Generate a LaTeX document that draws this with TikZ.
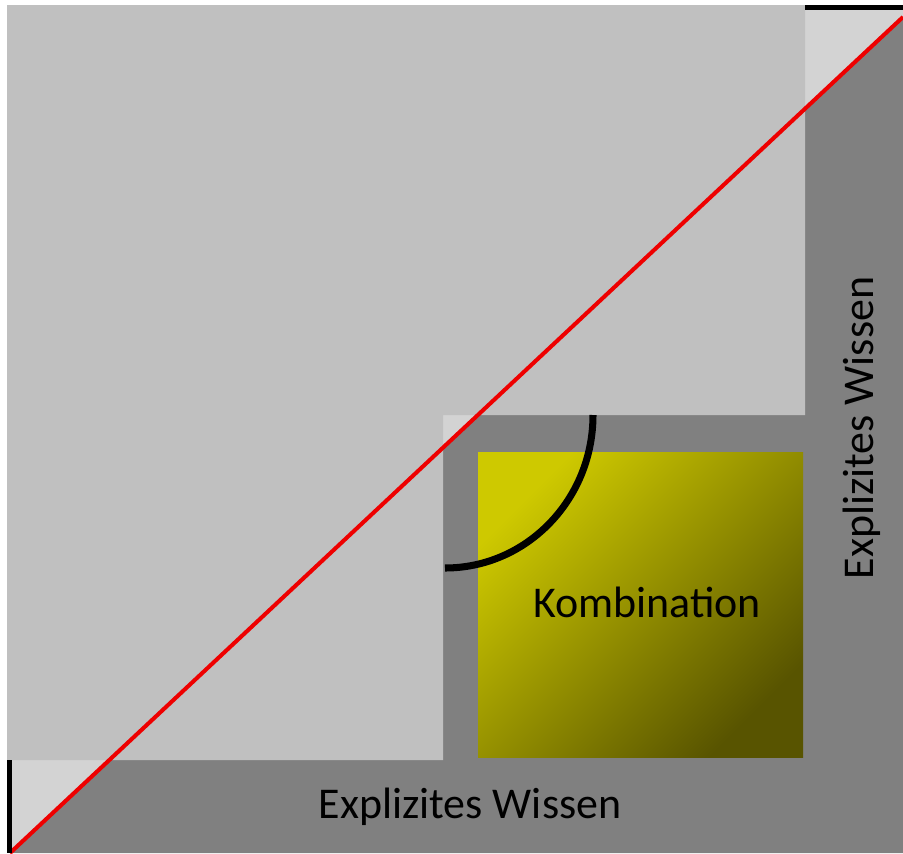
\documentclass[tikz,border=0pt]{standalone}
\usepackage{fontspec}
\setmainfont{Carlito}
\usetikzlibrary{calc}
\definecolor{grey1}{RGB}{192,192,192}
\definecolor{grey2}{RGB}{211,211,211}
\definecolor{grey3}{RGB}{128,128,128}
\definecolor{red1}{RGB}{238,0,0}
\definecolor{yellow1}{RGB}{206,201,0}
\definecolor{yellow2}{RGB}{165,160,0}
\definecolor{olive1}{RGB}{88,84,0}

\begin{document}
\begin{tikzpicture}[x=0.02cm, y=-0.02cm, line width=1.5pt,
  lbl/.style={anchor=base, inner sep=0pt, font=\fontsize{25}{30}\selectfont}]
  \useasboundingbox (0,0) rectangle (903,853);
  \coordinate (tl) at (7,5);
  \coordinate (br) at (903,853);
  \coordinate (d1) at (10,853);
  \coordinate (d2) at (903,17);
  \coordinate (ctr) at (443,415);
  % background: light above the diagonal, dark below
  \fill[grey2] (tl) rectangle (br);
  \fill[grey3] (d1) -- (d2) -- (br) -- cycle;
  \fill[grey1] (tl) -- (805,5) -- (805,415) -- (ctr) -- (443,760) -- (7,760) -- cycle;
  \shade[shading=axis, top color=yellow1, middle color=yellow2, bottom color=olive1, shading angle=45]
    (478,452) rectangle (803,757);
  \draw[line width=4pt] (593,415) arc[start angle=0, end angle=90, x radius=148, y radius=153];
  \draw[red1, line width=2.3pt] (d1) -- (d2);
  \draw[line width=2.8pt] (805,7.5) -- (903,7.5);
  \draw[line width=2.8pt] (9.5,760) -- (9.5,853);
  \node[lbl] (komb) at (647,617) {Kombination};
  \node[lbl] (wissen1) at (470,818) {Explizites Wissen};
  \node[lbl, rotate=90] (wissen2) at (873,428) {Explizites Wissen};
\end{tikzpicture}
\end{document}
